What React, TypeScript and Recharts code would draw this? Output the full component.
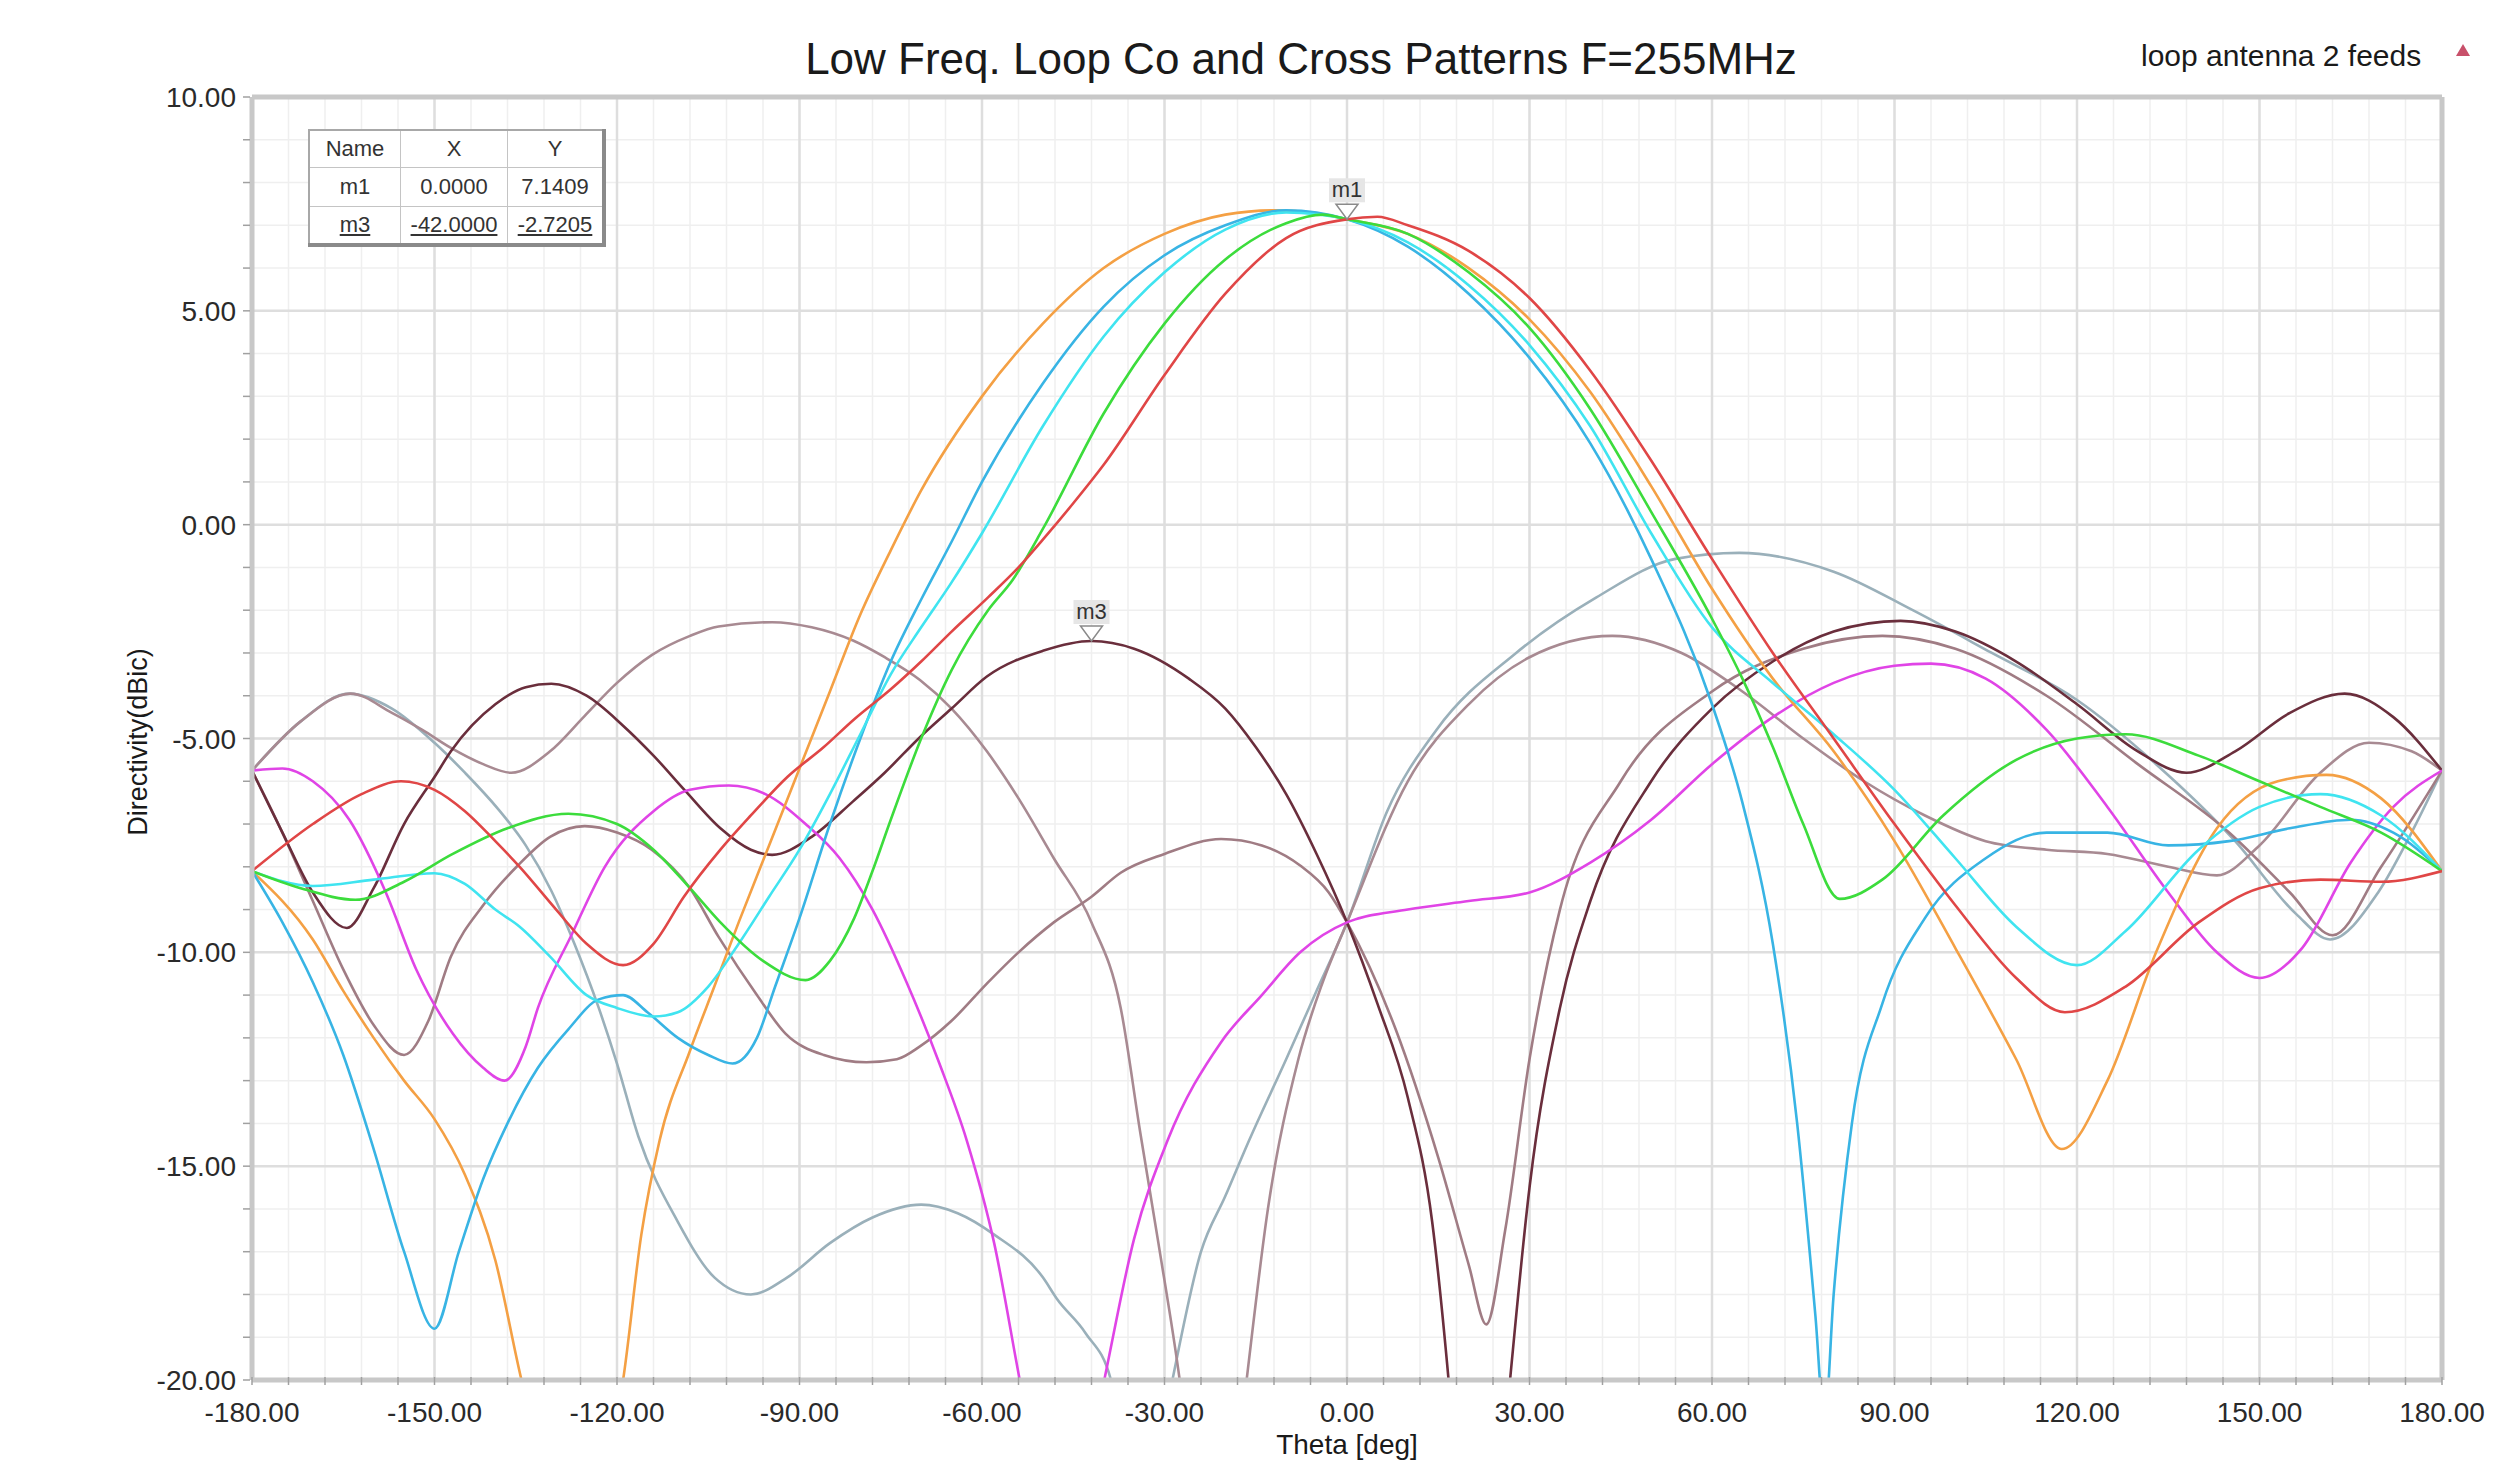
import React from 'react';
import { LineChart, Line, XAxis, YAxis, CartesianGrid, ReferenceLine, ReferenceDot } from 'recharts';

// ---------- axes / ticks ----------
const xMajorTicks = [-180, -150, -120, -90, -60, -30, 0, 30, 60, 90, 120, 150, 180];
const yMajorTicks = [-20, -15, -10, -5, 0, 5, 10];
const xMinorTicks = Array.from({ length: 61 }, (_, i) => -180 + i * 6);
const yMinorTicks = Array.from({ length: 31 }, (_, i) => -20 + i);

const chartTitle = 'Low Freq. Loop Co and Cross Patterns F=255MHz';
const legendLabel = 'loop antenna 2 feeds';
const xAxisTitle = 'Theta [deg]';
const yAxisTitle = 'Directivity(dBic)';

// ---------- series (theta deg, directivity dBic) ----------
const orangeTheta = [-180, -170, -165, -160, -155, -150, -145, -140, -135.7, -130, -127, -124, -119, -116, -113, -108, -104, -100, -95, -90, -85, -80, -75, -70, -60, -50, -40, -30, -20, -12, -5, 0, 10, 20, 30, 40, 50, 60, 70, 80, 90, 100, 110, 117.5, 125, 133, 143, 153, 161, 170, 180];
const orangeVal = [-8.1, -9.7, -10.9, -12.0, -13.0, -13.9, -15.2, -17.2, -20, -23, -23.6, -23, -20, -16.6, -14.4, -12.3, -10.8, -9.3, -7.5, -5.7, -3.9, -2.1, -0.6, 0.8, 3.0, 4.7, 6.0, 6.8, 7.25, 7.35, 7.28, 7.14, 6.8, 6.0, 4.8, 3.1, 0.9, -1.5, -3.6, -5.3, -7.4, -9.9, -12.5, -14.6, -13.0, -10.0, -7.1, -6.0, -5.85, -6.4, -8.1];

const blueTheta = [-180, -175, -170, -165, -160, -155, -150, -146, -142, -138, -133, -128, -123, -119, -115, -110, -105, -101, -97, -94, -90, -85, -80, -75, -70, -65, -60, -50, -40, -30, -20, -10, 0, 10, 20, 30, 40, 50, 60, 65, 70, 74, 77, 78.5, 80, 83, 88, 95, 105, 115, 125, 135, 145, 155, 165, 172, 180];
const blueVal = [-8.1, -9.3, -10.7, -12.4, -14.6, -17.0, -18.8, -17.0, -15.3, -14.0, -12.7, -11.8, -11.1, -11.0, -11.4, -12.0, -12.4, -12.6, -12.0, -10.8, -9.2, -7.0, -5.0, -3.2, -1.75, -0.4, 1.0, 3.3, 5.1, 6.3, 7.0, 7.35, 7.14, 6.5, 5.4, 3.9, 1.9, -0.8, -4.2, -6.5, -9.8, -14, -18.5, -21, -18, -14, -11.2, -9.2, -7.8, -7.2, -7.2, -7.5, -7.4, -7.1, -6.9, -7.2, -8.1];

const cyanTheta = [-180, -170, -160, -150, -145, -140, -136, -131, -125, -120, -114, -110, -105, -100, -95, -90, -85, -80, -75, -70, -65, -60, -50, -40, -30, -20, -10, 0, 10, 20, 30, 40, 50, 60, 70, 80, 90, 100, 110, 120, 128, 140, 150, 160, 170, 180];
const cyanVal = [-8.1, -8.45, -8.3, -8.15, -8.4, -9.0, -9.4, -10.1, -11.0, -11.3, -11.5, -11.4, -10.8, -9.8, -8.7, -7.6, -6.3, -4.9, -3.5, -2.4, -1.35, -0.2, 2.3, 4.4, 5.9, 6.9, 7.3, 7.14, 6.6, 5.6, 4.2, 2.3, -0.2, -2.4, -3.7, -4.9, -6.2, -7.8, -9.4, -10.3, -9.5, -7.6, -6.6, -6.3, -6.8, -8.1];

const greenTheta = [-180, -172, -163, -155, -147, -138, -128, -120, -114, -108, -103, -96, -89, -85, -81, -78, -75, -70, -65, -59, -55, -50, -40, -30, -20, -10, -4, 0, 10, 20, 30, 40, 50, 60, 65, 70, 75, 81, 88, 98, 110, 120, 128, 140, 150, 160, 170, 180];
const greenVal = [-8.1, -8.5, -8.77, -8.35, -7.7, -7.1, -6.76, -7.0, -7.6, -8.5, -9.3, -10.2, -10.65, -10.2, -9.2, -8.1, -6.9, -5.0, -3.4, -2.0, -1.3, -0.1, 2.6, 4.7, 6.2, 7.05, 7.25, 7.14, 6.8, 5.9, 4.6, 2.7, 0.3, -2.2, -3.6, -5.2, -7.0, -8.75, -8.3, -6.8, -5.5, -5.0, -4.9, -5.4, -6.0, -6.6, -7.2, -8.1];

const redTheta = [-180, -170, -162, -155.5, -150, -145, -140, -136, -130, -125, -119, -114, -109, -103, -98, -92, -86, -81, -75, -70, -65, -59, -54, -50, -45, -40, -30, -20, -10, 0, 5, 10, 20, 30, 40, 50, 60, 70, 80, 90, 100, 110, 118, 128, 140, 150, 160, 170, 180];
const redVal = [-8.1, -7.0, -6.3, -6.0, -6.2, -6.7, -7.4, -8.0, -9.0, -9.8, -10.3, -9.8, -8.7, -7.6, -6.8, -5.9, -5.2, -4.55, -3.85, -3.2, -2.5, -1.7, -1.0, -0.35, 0.5, 1.4, 3.5, 5.4, 6.7, 7.14, 7.2, 7.0, 6.4, 5.3, 3.6, 1.5, -0.8, -3.0, -5.0, -7.0, -8.9, -10.6, -11.4, -10.8, -9.3, -8.5, -8.3, -8.35, -8.1];

const magentaTheta = [-180, -175, -170, -164, -158, -153, -147, -142, -138.5, -135, -133, -127.5, -122, -114, -108, -101.6, -95.6, -89, -83.4, -78, -72.4, -67, -62.5, -58, -53.8, -47, -39.9, -35, -29.5, -20.7, -14, -7.7, 0, 10, 20, 30, 40, 50, 60, 70, 80, 90, 96, 105, 115, 125, 135, 143, 150, 157, 165, 172, 180];
const magentaVal = [-5.75, -5.7, -6.0, -6.9, -8.6, -10.4, -11.9, -12.7, -13.0, -12.2, -11.3, -9.6, -8.0, -6.7, -6.2, -6.1, -6.3, -7.0, -7.8, -9.0, -10.7, -12.6, -14.4, -16.8, -20, -25, -20, -16.7, -14.4, -12.1, -11.0, -10.0, -9.3, -9.0, -8.8, -8.6, -7.9, -6.9, -5.6, -4.5, -3.7, -3.3, -3.25, -3.6, -4.8, -6.6, -8.6, -10.0, -10.6, -9.9, -7.9, -6.6, -5.75];

const maroonTheta = [-180, -175, -170, -164.4, -160, -155, -150, -147.3, -140, -135, -130.8, -125, -119, -114, -108.8, -103, -98, -94.5, -88, -81.2, -76, -70.2, -65, -59.2, -50, -42, -35, -26, -20, -15, -10, -5, 0, 5, 10, 14, 16.7, 20, 23, 26.8, 30, 35, 40, 50, 60, 70, 80, 91, 100, 110, 120, 130, 138, 146, 155, 164, 172, 180];
const maroonVal = [-5.75, -7.2, -8.6, -9.43, -8.5, -7.0, -5.9, -5.3, -4.2, -3.8, -3.72, -4.0, -4.7, -5.4, -6.22, -7.1, -7.6, -7.72, -7.3, -6.47, -5.8, -4.97, -4.3, -3.55, -2.95, -2.72, -2.9, -3.6, -4.3, -5.2, -6.3, -7.7, -9.3, -11.2, -13.4, -16.3, -20, -26, -26, -20, -15.5, -11.3, -8.8, -6.0, -4.3, -3.2, -2.5, -2.25, -2.5, -3.2, -4.2, -5.3, -5.8, -5.3, -4.4, -3.95, -4.5, -5.75];

const grayTheta = [-180, -172, -164, -157, -150, -145, -139.6, -135, -130.8, -127, -123, -120, -116.5, -110, -104, -98, -92, -85, -78, -70, -64, -58, -50, -47.7, -43, -38.8, -34, -28.7, -24, -20, -16.1, -10, -5, 0, 6.6, 14.7, 27.8, 41, 54, 64.5, 80, 93, 106, 120, 133, 146, 156, 161.6, 169.5, 175, 180];
const grayVal = [-5.75, -4.6, -3.95, -4.3, -5.1, -5.8, -6.64, -7.5, -8.56, -9.8, -11.3, -12.6, -14.3, -16.3, -17.6, -18.0, -17.6, -16.8, -16.2, -15.9, -16.1, -16.6, -17.6, -18.1, -18.9, -20, -24, -20, -17.0, -15.7, -14.4, -12.5, -10.9, -9.3, -6.7, -4.8, -3.0, -1.7, -0.8, -0.66, -1.1, -2.0, -3.0, -4.1, -5.6, -7.4, -9.1, -9.7, -8.6, -7.2, -5.75];

const mauveATheta = [-180, -172, -163.8, -157, -152, -147.3, -142, -137.4, -131, -125.3, -120, -114.3, -108, -103.3, -94.5, -88, -81.2, -76, -70.2, -65, -59.2, -54, -48.2, -42, -37.2, -34, -31, -27.5, -22, -16.5, -13, -8, -4, 0, 10, 20, 30, 43.6, 55, 65, 75, 85, 95, 105, 115, 125, 135, 143, 150, 160, 168, 175, 180];
const mauveAVal = [-5.75, -4.6, -3.95, -4.4, -4.8, -5.22, -5.6, -5.8, -5.3, -4.47, -3.7, -3.05, -2.6, -2.38, -2.28, -2.4, -2.71, -3.1, -3.63, -4.3, -5.3, -6.4, -7.8, -9.3, -11.3, -14.2, -16.8, -20, -27, -20, -16, -12.5, -10.7, -9.3, -6.0, -4.2, -3.1, -2.6, -3.0, -3.9, -5.0, -6.0, -6.8, -7.4, -7.6, -7.7, -8.0, -8.2, -7.5, -5.8, -5.1, -5.3, -5.75];

const mauveBTheta = [-180, -175, -170, -165, -160, -155, -151, -147.3, -142, -136.3, -131, -125.3, -120, -114.3, -108, -103.3, -97, -92.3, -86, -79, -74, -70.2, -65, -59.2, -54, -48.2, -42, -37.2, -30, -20.7, -14, -7.7, -3, 0, 8, 15, 20, 22.9, 26, 30, 35, 45, 60, 75, 88, 100, 115, 130, 145, 155, 162, 170, 180];
const mauveBVal = [-5.75, -7.2, -8.8, -10.4, -11.7, -12.4, -11.6, -10.1, -8.9, -7.97, -7.3, -7.05, -7.2, -7.6, -8.5, -9.64, -11.0, -11.9, -12.4, -12.57, -12.5, -12.2, -11.6, -10.73, -10.0, -9.3, -8.7, -8.14, -7.7, -7.35, -7.5, -7.97, -8.6, -9.3, -11.8, -14.8, -17.3, -18.7, -16.5, -12.5, -9.0, -6.0, -3.9, -2.9, -2.6, -2.9, -4.0, -5.6, -7.2, -8.6, -9.6, -8.0, -5.75];

// markers
const markerNames = ['m1', 'm3'];
const markerX = [0, -42];
const markerY = [7.1409, -2.7205];

const toPoints = (t: number[], v: number[]) => t.map((x, i) => ({ x, y: v[i] }));

const series = [
  { key: 'gray', color: '#9AB0BA', pts: toPoints(grayTheta, grayVal) },
  { key: 'mauveA', color: '#A88A92', pts: toPoints(mauveATheta, mauveAVal) },
  { key: 'mauveB', color: '#A07C84', pts: toPoints(mauveBTheta, mauveBVal) },
  { key: 'maroon', color: '#6A2E3C', pts: toPoints(maroonTheta, maroonVal) },
  { key: 'magenta', color: '#E044E6', pts: toPoints(magentaTheta, magentaVal) },
  { key: 'orange', color: '#F4A044', pts: toPoints(orangeTheta, orangeVal) },
  { key: 'blue', color: '#38B4E4', pts: toPoints(blueTheta, blueVal) },
  { key: 'cyan', color: '#40E4F0', pts: toPoints(cyanTheta, cyanVal) },
  { key: 'green', color: '#3CDC3C', pts: toPoints(greenTheta, greenVal) },
  { key: 'red', color: '#E04646', pts: toPoints(redTheta, redVal) },
];

const FONT = '"Liberation Sans", Arial, sans-serif';

const XTick = (props: any) => {
  const { x, y, payload } = props;
  const v = payload.value;
  const major = v % 30 === 0;
  return (
    <g>
      <line x1={x} x2={x} y1={y - 3} y2={y + 5} stroke="#a0a0a0" strokeWidth={1.5} />
      {major && (
        <text x={x} y={y + 42} textAnchor="middle" fontFamily={FONT} fontSize={28} fill="#2a2a2a">
          {v.toFixed(2)}
        </text>
      )}
    </g>
  );
};

const YTick = (props: any) => {
  const { x, y, payload } = props;
  const v = payload.value;
  const major = v % 5 === 0;
  return (
    <g>
      <line x1={x - 9} x2={x - 2} y1={y} y2={y} stroke="#a0a0a0" strokeWidth={1.5} />
      {major && (
        <text x={x - 16} y={y + 10} textAnchor="end" fontFamily={FONT} fontSize={28} fill="#2a2a2a">
          {v.toFixed(2)}
        </text>
      )}
    </g>
  );
};

const makeMarker = (name: string) => (p: any) => {
  const { cx, cy } = p;
  return (
    <g>
      <path d={`M${cx - 11},${cy - 15} L${cx + 11},${cy - 15} L${cx},${cy} Z`} fill="#ffffff" stroke="#8a8a8a" strokeWidth={1.5} />
      <rect x={cx - 18} y={cy - 41} width={36} height={24} fill="#e6e6e6" />
      <text x={cx} y={cy - 22} textAnchor="middle" fontFamily={FONT} fontSize={22} fill="#333">
        {name}
      </text>
    </g>
  );
};

const cell: React.CSSProperties = {
  border: '1px solid #c4c4c4',
  textAlign: 'center',
  padding: 0,
  fontSize: 22,
  color: '#333',
  fontFamily: FONT,
};

export default function App() {
  return (
    <div style={{ position: 'absolute', left: 0, top: 0, width: 2500, height: 1460, background: '#ffffff', fontFamily: FONT, overflow: 'hidden' }}>
      <LineChart width={2500} height={1460} margin={{ top: 97, right: 58, bottom: 20, left: 0 }}>
        <CartesianGrid stroke="#EFEFEF" strokeWidth={1.5} />
        {xMajorTicks.map((v) => (
          <ReferenceLine key={'vx' + v} x={v} stroke="#DEDEDE" strokeWidth={2.5} />
        ))}
        {yMajorTicks.map((v) => (
          <ReferenceLine key={'hy' + v} y={v} stroke="#DEDEDE" strokeWidth={2.5} />
        ))}
        <ReferenceLine y={10} stroke="#C8C8C8" strokeWidth={5} />
        <ReferenceLine x={180} stroke="#C8C8C8" strokeWidth={5} />
        <XAxis
          type="number"
          dataKey="x"
          domain={[-180, 180]}
          ticks={xMinorTicks}
          interval={0}
          tick={<XTick />}
          tickLine={false}
          tickSize={0}
          tickMargin={0}
          axisLine={{ stroke: '#C8C8C8', strokeWidth: 5 }}
          height={60}
          allowDataOverflow
        />
        <YAxis
          type="number"
          domain={[-20, 10]}
          ticks={yMinorTicks}
          interval={0}
          tick={<YTick />}
          tickLine={false}
          tickSize={0}
          tickMargin={0}
          axisLine={{ stroke: '#C8C8C8', strokeWidth: 5 }}
          width={252}
          allowDataOverflow
        />
        {series.map((s) => (
          <Line
            key={s.key}
            data={s.pts}
            dataKey="y"
            type="monotone"
            dot={false}
            activeDot={false}
            stroke={s.color}
            strokeWidth={2.6}
            isAnimationActive={false}
          />
        ))}
        {markerNames.map((n, i) => (
          <ReferenceDot key={n} x={markerX[i]} y={markerY[i]} r={0} shape={makeMarker(n)} />
        ))}
      </LineChart>

      {/* title */}
      <div style={{ position: 'absolute', left: 1301, top: 37, transform: 'translateX(-50%)', whiteSpace: 'nowrap', fontSize: 44, lineHeight: '44px', color: '#1a1a1a' }}>
        {chartTitle}
      </div>

      {/* legend */}
      <div style={{ position: 'absolute', left: 2141, top: 41, whiteSpace: 'nowrap', fontSize: 30, lineHeight: '30px', color: '#1a1a1a' }}>
        {legendLabel}
      </div>
      <svg style={{ position: 'absolute', left: 2452, top: 42 }} width={22} height={20}>
        <path d="M11,2 L18,14 L4,14 Z" fill="#C8506A" />
      </svg>

      {/* axis titles */}
      <div style={{ position: 'absolute', left: 1347, top: 1430, transform: 'translateX(-50%)', whiteSpace: 'nowrap', fontSize: 28, lineHeight: '30px', color: '#1a1a1a' }}>
        {xAxisTitle}
      </div>
      <div style={{ position: 'absolute', left: 138 - 160, top: 742 - 16, width: 320, height: 32, lineHeight: '32px', textAlign: 'center', transform: 'rotate(-90deg)', fontSize: 27, color: '#1a1a1a', whiteSpace: 'nowrap' }}>
        {yAxisTitle}
      </div>

      {/* marker table */}
      <table
        style={{
          position: 'absolute',
          left: 308,
          top: 129,
          borderCollapse: 'collapse',
          background: '#ffffff',
          border: '2px solid #a8a8a8',
          borderRightWidth: 4,
          borderBottomWidth: 4,
          borderRightColor: '#8a8a8a',
          borderBottomColor: '#8a8a8a',
        }}
      >
        <tbody>
          <tr style={{ height: 37 }}>
            <td style={{ ...cell, width: 90 }}>Name</td>
            <td style={{ ...cell, width: 106 }}>X</td>
            <td style={{ ...cell, width: 94 }}>Y</td>
          </tr>
          {markerNames.map((n, i) => (
            <tr key={n} style={{ height: 39 }}>
              <td style={{ ...cell, textDecoration: i === 1 ? 'underline' : 'none' }}>{n}</td>
              <td style={{ ...cell, textDecoration: i === 1 ? 'underline' : 'none' }}>{markerX[i].toFixed(4)}</td>
              <td style={{ ...cell, textDecoration: i === 1 ? 'underline' : 'none' }}>{markerY[i].toFixed(4)}</td>
            </tr>
          ))}
        </tbody>
      </table>
    </div>
  );
}
